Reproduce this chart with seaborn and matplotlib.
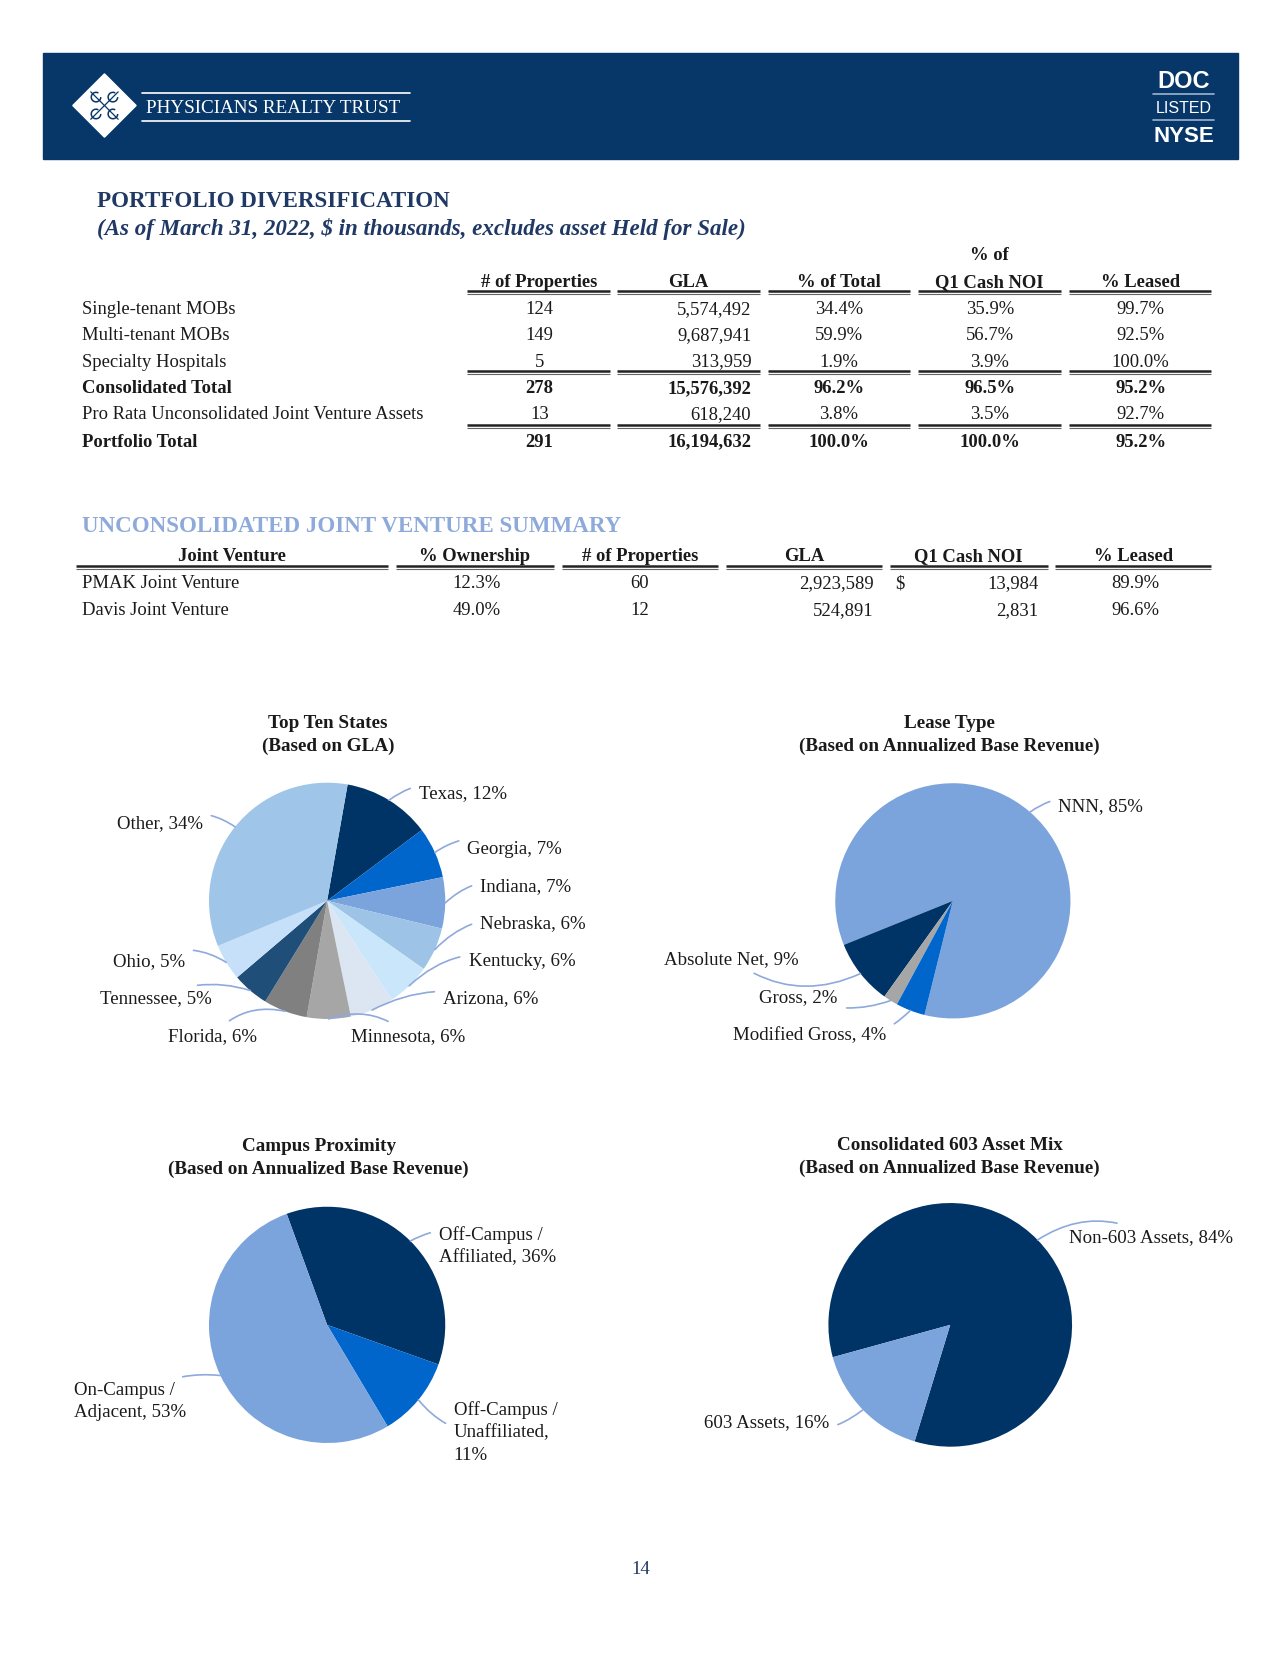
import numpy as np
import matplotlib
matplotlib.use("Agg")
import matplotlib.pyplot as plt
from matplotlib.patches import Rectangle, Polygon, Arc
import seaborn as sns

# ---- data -------------------------------------------------------------
port_rows = ["Single-tenant MOBs", "Multi-tenant MOBs", "Specialty Hospitals",
             "Consolidated Total", "Pro Rata Unconsolidated Joint Venture Assets",
             "Portfolio Total"]
port_props = [124, 149, 5, 278, 13, 291]
port_gla = [5574492, 9687941, 313959, 15576392, 618240, 16194632]
port_pct_total = [34.4, 59.9, 1.9, 96.2, 3.8, 100.0]
port_pct_noi = [35.9, 56.7, 3.9, 96.5, 3.5, 100.0]
port_pct_leased = [99.7, 92.5, 100.0, 95.2, 92.7, 95.2]
port_bold = [False, False, False, True, False, True]

jv_names = ["PMAK Joint Venture", "Davis Joint Venture"]
jv_own = [12.3, 49.0]
jv_props = [60, 12]
jv_gla = [2923589, 524891]
jv_noi = [13984, 2831]
jv_leased = [89.9, 96.6]

states = ["Texas", "Georgia", "Indiana", "Nebraska", "Kentucky", "Arizona",
          "Minnesota", "Florida", "Tennessee", "Ohio", "Other"]
state_pct = [12, 7, 7, 6, 6, 6, 6, 6, 5, 5, 34]

lease_types = ["NNN", "Absolute Net", "Gross", "Modified Gross"]
lease_pct = [85, 9, 2, 4]

campus_types = ["Off-Campus /\nAffiliated", "Off-Campus /\nUnaffiliated", "On-Campus /\nAdjacent"]
campus_pct = [36, 11, 53]

asset_types = ["Non-603 Assets", "603 Assets"]
asset_pct = [84, 16]

# ---- style ------------------------------------------------------------
sns.set_theme(style="white")
plt.rcParams['font.family'] = ['Liberation Serif', 'DejaVu Serif']

NAVY = "#063768"
TITLE_NAVY = "#1F3864"
LEAD = "#8EA9DB"
TXT = "#1a1a1a"
W, H = 1213, 1570  # page units

fig = plt.figure(figsize=(12.8, 16.56), dpi=100)
fig.patch.set_facecolor("white")
main = fig.add_axes([0, 0, 1, 1])
main.set_xlim(0, W)
main.set_ylim(H, 0)
main.axis("off")

# ---- header band ------------------------------------------------------
main.add_patch(Rectangle((41, 51), 1132, 101, color=NAVY, zorder=1))
main.add_patch(Polygon([(99, 71), (129, 101), (99, 131), (69, 101)], closed=True,
                       color="white", zorder=2))
for (x, y) in [(91, 93), (107, 93), (91, 109), (107, 109)]:
    main.add_patch(Arc((x, y), 9, 9, theta1=0, theta2=300, color=NAVY, lw=1.1, zorder=3))
main.plot([86, 112], [88, 114], color=NAVY, lw=0.9, zorder=3)
main.plot([86, 112], [114, 88], color=NAVY, lw=0.9, zorder=3)
main.plot([135, 389], [89, 89], color="white", lw=1.2, zorder=2)
main.plot([135, 389], [116, 116], color="white", lw=1.2, zorder=2)
main.text(138, 103, "PHYSICIANS REALTY TRUST", color="white", fontsize=13.8,
          va="center", ha="left", zorder=3)
main.text(1122, 77, "DOC", color="white", fontsize=17, fontweight="bold",
          family="Liberation Sans", ha="center", va="center", zorder=3)
main.plot([1093, 1150], [90, 90], color="#9fb3cf", lw=1.2, zorder=2)
main.text(1122, 103, "LISTED", color="white", fontsize=11.5,
          family="Liberation Sans", ha="center", va="center", zorder=3)
main.plot([1093, 1150], [115, 115], color="#9fb3cf", lw=1.2, zorder=2)
main.text(1122, 129, "NYSE", color="white", fontsize=16, fontweight="bold",
          family="Liberation Sans", ha="center", va="center", zorder=3)

# ---- portfolio table --------------------------------------------------
main.text(92, 191, "PORTFOLIO DIVERSIFICATION", color=TITLE_NAVY, fontsize=16.6,
          fontweight="bold", va="center")
main.text(92, 217, "(As of March 31, 2022, $ in thousands, excludes asset Held for Sale)",
          color=TITLE_NAVY, fontsize=16.6, fontweight="bold", style="italic", va="center")

FS = 13.4
BL = 5.5  # baseline offset from row centre
pcols = [(443, 578), (585, 720), (728, 862), (870, 1005), (1013, 1148)]


def double_rule(segs, y):
    for a, b in segs:
        main.plot([a, b], [y, y], color="#222222", lw=1.8, solid_capstyle="butt")
        main.plot([a, b], [y + 3.2, y + 3.2], color="#666666", lw=0.8, solid_capstyle="butt")


def cell(x, y, s, ha="center", fw="normal"):
    main.text(x, y + BL, s, fontsize=FS, fontweight=fw, ha=ha, va="baseline", color=TXT)


hdrs = ["# of Properties", "GLA", "% of Total", "Q1 Cash NOI", "% Leased"]
for (a, b), h in zip(pcols, hdrs):
    cell((a + b) / 2, 267, h, fw="bold")
cell(938, 241, "% of", fw="bold")
double_rule(pcols, 276.5)

row_y = [292, 317, 342, 367, 392, 418]
for i, y in enumerate(row_y):
    fw = "bold" if port_bold[i] else "normal"
    cell(78, y, port_rows[i], ha="left", fw=fw)
    cell(511, y, f"{port_props[i]}", fw=fw)
    cell(712, y, f"{port_gla[i]:,}", ha="right", fw=fw)
    cell(795, y, f"{port_pct_total[i]:.1f}%", fw=fw)
    cell(938, y, f"{port_pct_noi[i]:.1f}%", fw=fw)
    cell(1081, y, f"{port_pct_leased[i]:.1f}%", fw=fw)
double_rule(pcols, 352.5)
double_rule(pcols, 403.5)

# ---- joint venture table ---------------------------------------------
main.text(78, 499, "UNCONSOLIDATED JOINT VENTURE SUMMARY", color="#8EAADB", fontsize=16.6,
          fontweight="bold", va="center")
jcols = [(72, 368), (375, 525), (533, 680), (688, 836), (843, 993), (1000, 1148)]
jhdrs = ["Joint Venture", "% Ownership", "# of Properties", "GLA", "Q1 Cash NOI", "% Leased"]
for (a, b), h in zip(jcols, jhdrs):
    cell((a + b) / 2, 526, h, fw="bold")
double_rule(jcols, 537.5)
for i, y in enumerate([552, 578]):
    cell(78, y, jv_names[i], ha="left")
    cell(452, y, f"{jv_own[i]:.1f}%")
    cell(606, y, f"{jv_props[i]}")
    cell(828, y, f"{jv_gla[i]:,}", ha="right")
    if i == 0:
        cell(848, y, "$", ha="left")
    cell(984, y, f"{jv_noi[i]:,}", ha="right")
    cell(1076, y, f"{jv_leased[i]:.1f}%")


# ---- pies -------------------------------------------------------------
def draw_pie(cx, cy, r, values, colors, start, ccw, labels, text_xy, has, rads):
    ax = fig.add_axes([(cx - r) / W, 1 - (cy + r) / H, 2 * r / W, 2 * r / H])
    wedges, _ = ax.pie(values, colors=colors, startangle=start, counterclock=ccw,
                       radius=1, wedgeprops=dict(linewidth=0))
    ax.set_xlim(-1, 1)
    ax.set_ylim(-1, 1)
    ax.axis("off")
    for w, lab, (tx, ty), ha, rad in zip(wedges, labels, text_xy, has, rads):
        w.set_clip_on(False)
        mid = np.deg2rad((w.theta1 + w.theta2) / 2)
        ax.annotate(lab, xy=(np.cos(mid), np.sin(mid)), xycoords="data",
                    xytext=(tx, ty), textcoords=main.transData,
                    ha=ha, va="center", fontsize=13.6, color=TXT, linespacing=1.4,
                    annotation_clip=False,
                    arrowprops=dict(arrowstyle="-", color=LEAD, lw=1.2,
                                    shrinkA=4, shrinkB=0,
                                    connectionstyle=f"arc3,rad={rad}"))
    return ax


def pie_title(x, y, t1, t2):
    main.text(x, y, t1, fontsize=13.8, fontweight="bold", ha="center", va="center", color=TXT)
    main.text(x, y + 22, t2, fontsize=13.8, fontweight="bold", ha="center", va="center", color=TXT)


pie_title(311, 686, "Top Ten States", "(Based on GLA)")
state_colors = ["#003366", "#0066CC", "#7BA3DC", "#9DC3E6", "#C9E6FA", "#DCE6F2",
                "#A6A6A6", "#808080", "#1F4E79", "#C5E0F8", "#9FC5E8"]
draw_pie(310, 855, 112, state_pct, state_colors, 80, False,
         [f"{s}, {p}%" for s, p in zip(states, state_pct)],
         [(397, 752), (443, 805), (455, 841), (455, 876), (444, 912), (420, 947),
          (333, 983), (244, 983), (201, 947), (175, 912), (192, 781)],
         ["left"] * 7 + ["right"] * 4,
         [0.3, 0.3, 0.3, 0.3, 0.3, 0.2, 0.3, -0.3, -0.2, -0.3, -0.3])

pie_title(900, 686, "Lease Type", "(Based on Annualized Base Revenue)")
draw_pie(903, 855, 111.5, lease_pct, ["#7BA3DC", "#003366", "#A6A6A6", "#0066CC"], 256, True,
         [f"{s}, {p}%" for s, p in zip(lease_types, lease_pct)],
         [(1003, 765), (757, 910), (794, 946), (840, 982)],
         ["left", "right", "right", "right"],
         [0.3, 0.3, 0.2, 0.3])

pie_title(302, 1087, "Campus Proximity", "(Based on Annualized Base Revenue)")
campus_labels = [f"{campus_types[0]}, {campus_pct[0]}%",
                 f"{campus_types[1]},\n{campus_pct[1]}%",
                 f"{campus_types[2]}, {campus_pct[2]}%"]
draw_pie(310, 1257, 112, campus_pct, ["#003366", "#0066CC", "#7BA3DC"], 110, False,
         campus_labels,
         [(416, 1181), (430, 1358), (70, 1329)],
         ["left", "left", "left"],
         [0.3, -0.3, -0.2])

pie_title(900, 1086, "Consolidated 603 Asset Mix", "(Based on Annualized Base Revenue)")
draw_pie(900.5, 1257, 115.5, asset_pct, ["#003366", "#7BA3DC"], 253, True,
         [f"{s}, {p}%" for s, p in zip(asset_types, asset_pct)],
         [(1013, 1173), (786, 1349)],
         ["left", "right"],
         [0.3, 0.3])

main.text(607, 1488, "14", fontsize=13.5, color=TITLE_NAVY, ha="center", va="center")

fig.savefig("out.png", dpi=100, facecolor="white")
